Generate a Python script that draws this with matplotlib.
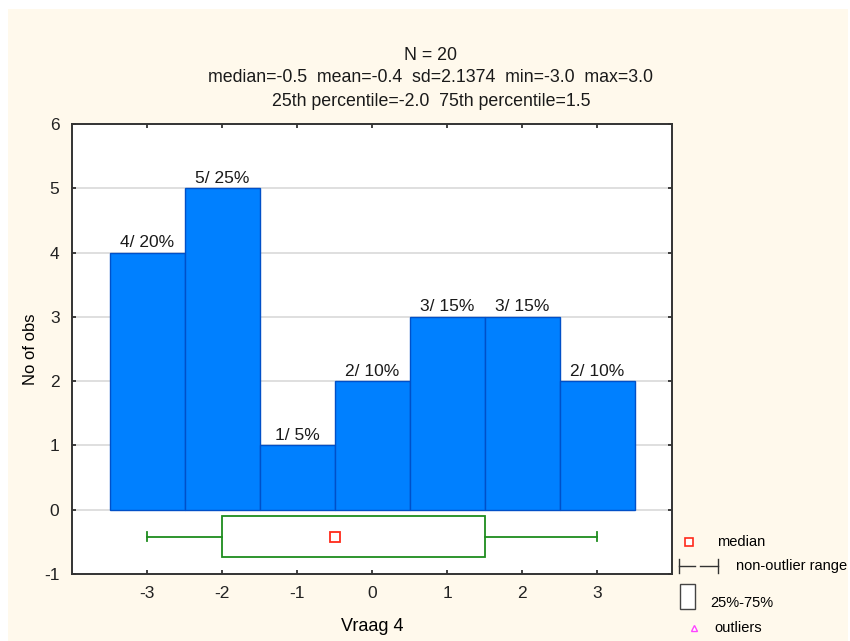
import matplotlib
matplotlib.use("Agg")
import matplotlib.pyplot as plt
from matplotlib.patches import Rectangle
from matplotlib.lines import Line2D

plt.rcParams['font.family'] = ['Liberation Sans', 'DejaVu Sans']
plt.rcParams['axes.unicode_minus'] = False

categories = [-3, -2, -1, 0, 1, 2, 3]
counts = [4, 5, 1, 2, 3, 3, 2]
labels = ["4/ 20%", "5/ 25%", "1/ 5%", "2/ 10%", "3/ 15%", "3/ 15%", "2/ 10%"]
q1, q3 = -2.0, 1.5
median = -0.5
wmin, wmax = -3.0, 3.0
title_lines = ["N = 20",
               "median=-0.5  mean=-0.4  sd=2.1374  min=-3.0  max=3.0",
               "25th percentile=-2.0  75th percentile=1.5"]

cream = "#FFF9EC"
fig = plt.figure(figsize=(8.5, 6.41), dpi=100)
fig.patch.set_facecolor("white")
fig.patches.append(Rectangle((8/850, 0), 1 - 10/850, 1 - 9/641, transform=fig.transFigure,
                             facecolor=cream, edgecolor="none", zorder=-10))

ax = fig.add_axes([72/850, 1 - 574/641, 600/850, 450/641])
ax.set_facecolor("white")
ax.set_xlim(-4, 4)
ax.set_ylim(-1, 6)

for y in range(1, 6):
    ax.axhline(y, color="#D9D9D9", lw=1.2, zorder=0)

ax.bar(categories, counts, width=1.0, color="#0080FF", edgecolor="#0050C8", linewidth=1.0, zorder=2)
ax.axhline(0, color="#D9D9D9", lw=1.2, zorder=1)
for c, n, lab in zip(categories, counts, labels):
    ax.text(c, n + 0.04, lab, ha="center", va="bottom", fontsize=12.5, color="#1A1A1A", zorder=3)

# box plot
yc = -0.42
yb, yt = -0.73, -0.09
green = "#1E8C1E"
ax.add_patch(Rectangle((q1, yb), q3 - q1, yt - yb, facecolor="white", edgecolor=green, lw=1.3, zorder=3))
ax.plot([wmin, q1], [yc, yc], color=green, lw=1.3, zorder=3)
ax.plot([q3, wmax], [yc, yc], color=green, lw=1.3, zorder=3)
ax.plot([wmin, wmin], [yc - 0.07, yc + 0.07], color=green, lw=1.3, zorder=3)
ax.plot([wmax, wmax], [yc - 0.07, yc + 0.07], color=green, lw=1.3, zorder=3)
ax.plot([median], [yc], marker="s", ms=7, mfc="white", mec="#FF2A1A", mew=1.3, ls="none", zorder=4)

ax.set_xticks(categories)
ax.set_yticks(range(-1, 7))
ax.tick_params(direction="in", length=3, width=1.2, top=True, right=True, labelsize=12.5,
               colors="#222222")
ax.tick_params(axis="x", pad=9)
ax.tick_params(axis="y", pad=9)
for s in ax.spines.values():
    s.set_linewidth(1.4)
    s.set_color("#333333")

ax.set_xlabel("Vraag 4", fontsize=13, labelpad=12)
ax.set_ylabel("No of obs", fontsize=12)
ax.yaxis.set_label_coords(-0.057, 0.5)

ys = [55, 78, 101]
for t, y in zip(title_lines, ys):
    fig.text(431/850, 1 - y/641, t, ha="center", va="center", fontsize=12.8, color="#1A1A1A")

# legend
fig.lines.append(Line2D([689/850], [1 - 542/641], marker="s", ms=6, mfc="white", mec="#FF2A1A", mew=1.2,
                        transform=fig.transFigure, ls="none"))
fig.text(717/850, 1 - 542/641, "median", va="center", fontsize=10.5)
lx0, lx1 = 679/850, 718/850
ly = 1 - 566/641
fig.lines.append(Line2D([lx0, 695/850], [ly, ly], color="#333333", lw=1.0, transform=fig.transFigure))
fig.lines.append(Line2D([700/850, lx1], [ly, ly], color="#333333", lw=1.0, transform=fig.transFigure))
for xx in (lx0, lx1):
    fig.lines.append(Line2D([xx, xx], [ly - 7/641, ly + 7/641], color="#333333", lw=1.0, transform=fig.transFigure))
fig.text(736/850, ly, "non-outlier range", va="center", fontsize=10.5)
fig.patches.append(Rectangle((680/850, 1 - 609/641), 15/850, 25/641, transform=fig.transFigure,
                             facecolor="white", edgecolor="#444444", lw=1.0))
fig.text(710/850, 1 - 603/641, "25%-75%", va="center", fontsize=10.5)
fig.lines.append(Line2D([694/850], [1 - 628/641], marker="^", ms=4, mfc="white", mec="#FF44FF", mew=1.0,
                        transform=fig.transFigure, ls="none"))
fig.text(714/850, 1 - 628/641, "outliers", va="center", fontsize=10.5)

fig.savefig("out.png", dpi=100, facecolor=fig.get_facecolor())
